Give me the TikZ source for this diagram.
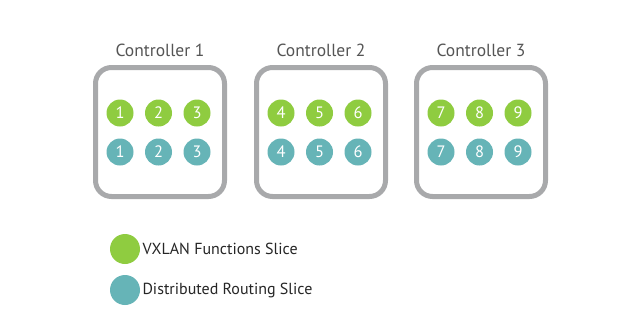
\documentclass[tikz,border=0pt]{standalone}
\usepackage{fontspec}
\setmainfont{PT Sans}
\usetikzlibrary{positioning}
\definecolor{vxgreen}{HTML}{8FCC40}
\definecolor{rtteal}{HTML}{66B4B7}
\definecolor{boxgray}{HTML}{A8A9AB}
\definecolor{textgray}{HTML}{555555}

\tikzset{
  ctrlbox/.style={draw=boxgray, line width=5pt, rounded corners=16pt,
    minimum width=129pt, minimum height=129pt},
  slice/.style={circle, minimum size=27pt, inner sep=0pt, text=white,
    font=\fontsize{16.5}{16.5}\selectfont},
  title/.style={text=textgray, font=\fontsize{17.5}{19}\selectfont},
  legend/.style={text=black!85, font=\fontsize{16}{18}\selectfont}
}

\begin{document}
\begin{tikzpicture}[x=1pt, y=-1pt]
        \useasboundingbox[fill=white] (0,0) rectangle (640,309);
        % Controller boxes with two rows of slices
        \foreach \c/\cx in {1/160, 2/321, 3/481} {
          \node[ctrlbox] (ctrl\c) at (\cx,132) {};
          \node[title] (title\c) at (\cx,50) {Controller \c};
          \foreach \k in {1,2,3} {
            \pgfmathtruncatemacro{\n}{3*(\c-1)+\k}
            \node[slice, fill=vxgreen] (vx\n) at (\cx-78.5+38.5*\k,113) {\n};
            \node[slice, fill=rtteal] (rt\n) at (\cx-78.5+38.5*\k,152) {\n};
          }
        }
        % Legend
        \node[slice, fill=vxgreen, minimum size=30pt] (keyvx) at (125,249) {};
        \node[legend, anchor=west] (labvx) at (139,249) {VXLAN Functions Slice};
        \node[slice, fill=rtteal, minimum size=30pt] (keyrt) at (125,290) {};
        \node[legend, anchor=west] (labrt) at (139,290) {Distributed Routing Slice};
      \end{tikzpicture}
\end{document}
